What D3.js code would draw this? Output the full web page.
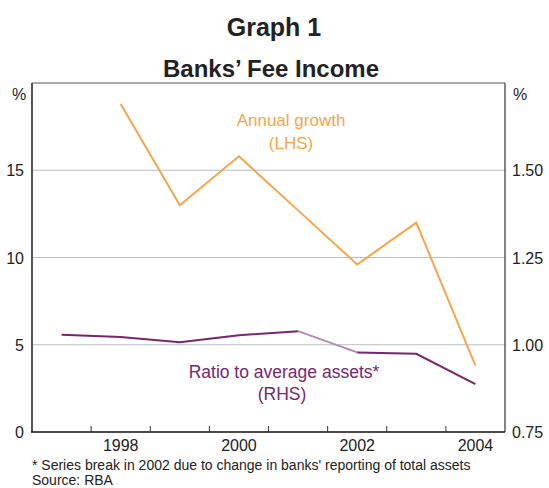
<!DOCTYPE html>
<html lang="en">
<head>
  <meta charset="UTF-8" />
  <title>Graph 1</title>
  <script src="https://d3js.org/d3.v7.min.js"></script>
  <style>
    body { margin: 0; background: #fff; }
    svg text { font-family: "Liberation Sans", Arial, sans-serif; }
  </style>
</head>
<body>
  <svg id="chart" width="549" height="488"></svg>

  <script>
    // annual data, plotted at mid-year
    const years = [1997, 1998, 1999, 2000, 2001, 2002, 2003, 2004];
    const growth = [null, 18.8, 13.0, 15.8, 12.7, 9.6, 12.0, 3.8];      // LHS, %
    const ratio = [1.029, 1.022, 1.007, 1.027, 1.039, 0.978, 0.974, 0.887]; // RHS, %
    const breakYear = 2001; // segment 2001 -> 2002 is the series break

    const xLabels = [1998, 2000, 2002, 2004];
    const leftTicks = [0, 5, 10, 15];
    const rightTicks = [0.75, 1.00, 1.25, 1.50];

    const width = 549, height = 488;
    const margin = { top: 83, right: 44, bottom: 56, left: 32 };

    const svg = d3.select("#chart");

    const x = d3.scaleLinear().domain([1997, 2005]).range([margin.left, width - margin.right]);
    const yL = d3.scaleLinear().domain([0, 20]).range([height - margin.bottom, margin.top]);
    const yR = d3.scaleLinear().domain([0.75, 1.75]).range([height - margin.bottom, margin.top]);

    const orange = "#f7a54b";
    const purple = "#76276f";
    const purpleLight = "#b48ab3";

    // titles
    svg.append("text").attr("x", 274).attr("y", 36)
      .attr("text-anchor", "middle").attr("font-weight", "bold")
      .attr("font-size", 25).attr("fill", "#222").text("Graph 1");
    svg.append("text").attr("x", 271).attr("y", 77)
      .attr("text-anchor", "middle").attr("font-weight", "bold")
      .attr("font-size", 24).attr("fill", "#222").text("Banks\u2019 Fee Income");

    // gridlines
    svg.append("g").selectAll("line")
      .data(leftTicks.filter(d => d > 0))
      .join("line")
      .attr("x1", margin.left).attr("x2", width - margin.right)
      .attr("y1", d => yL(d)).attr("y2", d => yL(d))
      .attr("stroke", "#b9bec5").attr("stroke-width", 1.2);

    // frame
    const x0 = margin.left, x1 = width - margin.right;
    const y0 = margin.top, y1 = height - margin.bottom;
    svg.append("line").attr("x1", x0).attr("x2", x1).attr("y1", y0).attr("y2", y0)
      .attr("stroke", "#555").attr("stroke-width", 1);
    svg.append("line").attr("x1", x1).attr("x2", x1).attr("y1", y0).attr("y2", y1)
      .attr("stroke", "#333").attr("stroke-width", 1.2);
    svg.append("line").attr("x1", x0).attr("x2", x0).attr("y1", y0).attr("y2", y1)
      .attr("stroke", "#555").attr("stroke-width", 2);

    // bottom axis: ticks at year boundaries pointing up, labels at mid-year
    const xAxis = svg.append("g").attr("transform", `translate(0,${y1})`);
    xAxis.append("line").attr("x1", x0 - 1).attr("x2", x1).attr("stroke", "#111").attr("stroke-width", 1.5);
    xAxis.selectAll(".tick")
      .data(d3.range(1998, 2005))
      .join("line")
      .attr("x1", d => x(d)).attr("x2", d => x(d))
      .attr("y1", 0).attr("y2", -6)
      .attr("stroke", "#333").attr("stroke-width", 1);
    xAxis.selectAll("text")
      .data(xLabels)
      .join("text")
      .attr("x", d => x(d + 0.5)).attr("y", 19)
      .attr("text-anchor", "middle").attr("font-size", 16).attr("fill", "#222")
      .text(d => d);

    // left labels
    svg.append("g").selectAll("text")
      .data(leftTicks)
      .join("text")
      .attr("x", 24).attr("y", d => yL(d) + 6)
      .attr("text-anchor", "end").attr("font-size", 16).attr("fill", "#222")
      .text(d => d);
    svg.append("text").attr("x", 19).attr("y", 100).attr("text-anchor", "middle")
      .attr("font-size", 16).attr("fill", "#222").text("%");

    // right labels
    svg.append("g").selectAll("text")
      .data(rightTicks)
      .join("text")
      .attr("x", 512).attr("y", d => yR(d) + 6)
      .attr("font-size", 16).attr("fill", "#222")
      .text(d => d.toFixed(2));
    svg.append("text").attr("x", 513).attr("y", 100)
      .attr("font-size", 16).attr("fill", "#222").text("%");

    // series
    const growthPts = years.map((yr, i) => ({ yr, v: growth[i] })).filter(d => d.v !== null);
    const ratioPts = years.map((yr, i) => ({ yr, v: ratio[i] }));

    svg.append("path")
      .datum(growthPts)
      .attr("fill", "none").attr("stroke", orange).attr("stroke-width", 2)
      .attr("d", d3.line().x(d => x(d.yr + 0.5)).y(d => yL(d.v)));

    const ratioLine = d3.line().x(d => x(d.yr + 0.5)).y(d => yR(d.v));
    svg.append("path")
      .datum(ratioPts.filter(d => d.yr <= breakYear))
      .attr("fill", "none").attr("stroke", purple).attr("stroke-width", 2)
      .attr("d", ratioLine);
    svg.append("path")
      .datum(ratioPts.filter(d => d.yr >= breakYear && d.yr <= breakYear + 1))
      .attr("fill", "none").attr("stroke", purpleLight).attr("stroke-width", 2)
      .attr("d", ratioLine);
    svg.append("path")
      .datum(ratioPts.filter(d => d.yr >= breakYear + 1))
      .attr("fill", "none").attr("stroke", purple).attr("stroke-width", 2)
      .attr("d", ratioLine);

    // series labels
    svg.append("text").attr("x", 291).attr("y", 126).attr("text-anchor", "middle")
      .attr("font-size", 17).attr("fill", orange).text("Annual growth");
    svg.append("text").attr("x", 291).attr("y", 149).attr("text-anchor", "middle")
      .attr("font-size", 17).attr("fill", orange).text("(LHS)");
    svg.append("text").attr("x", 284).attr("y", 378).attr("text-anchor", "middle")
      .attr("font-size", 17.5).attr("fill", purple).text("Ratio to average assets*");
    svg.append("text").attr("x", 282).attr("y", 400).attr("text-anchor", "middle")
      .attr("font-size", 17.5).attr("fill", purple).text("(RHS)");

    // footnotes
    svg.append("text").attr("x", 32).attr("y", 470)
      .attr("font-size", 14).attr("fill", "#222")
      .text("* Series break in 2002 due to change in banks' reporting of total assets");
    svg.append("text").attr("x", 32).attr("y", 485)
      .attr("font-size", 14).attr("fill", "#222").text("Source: RBA");
  </script>
</body>
</html>
